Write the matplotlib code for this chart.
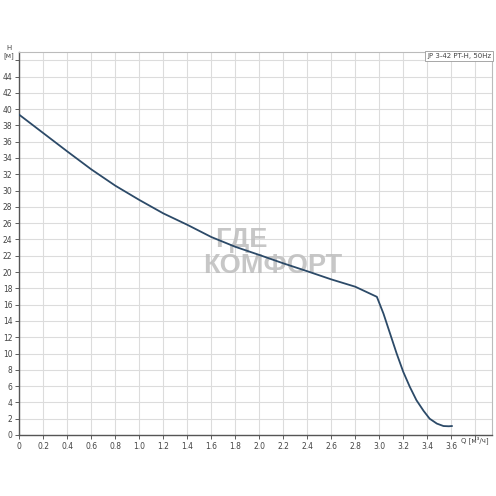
import matplotlib
matplotlib.use("Agg")
import matplotlib.pyplot as plt

# pump curve
q = [0.0, 0.2, 0.4, 0.6, 0.8, 1.0, 1.2, 1.4, 1.6, 1.8, 2.0, 2.2, 2.4, 2.6, 2.8, 2.98,
     3.035, 3.09, 3.145, 3.20, 3.255, 3.31, 3.37, 3.42, 3.48, 3.535, 3.58, 3.605]
h = [39.3, 37.05, 34.8, 32.6, 30.6, 28.85, 27.2, 25.8, 24.3, 23.1, 22.1, 21.07, 20.1, 19.1, 18.2, 16.96,
     14.9, 12.45, 10.0, 7.75, 5.9, 4.27, 2.95, 2.0, 1.4, 1.1, 1.07, 1.1]

x_ticks = [0, 0.2, 0.4, 0.6, 0.8, 1.0, 1.2, 1.4, 1.6, 1.8, 2.0, 2.2, 2.4, 2.6, 2.8, 3.0, 3.2, 3.4, 3.6, 3.8]
x_labels = ["0", "0.2", "0.4", "0.6", "0.8", "1.0", "1.2", "1.4", "1.6", "1.8", "2.0",
            "2.2", "2.4", "2.6", "2.8", "3.0", "3.2", "3.4", "3.6", ""]
y_ticks = list(range(0, 48, 2))
y_labels = [str(v) for v in range(0, 46, 2)] + [""]

fig = plt.figure(figsize=(4.96, 4.96), dpi=100)
ax = fig.add_axes([0.039, 0.123, 0.953, 0.772])

ax.plot(q, h, color="#2c4a68", lw=1.3, solid_joinstyle="round", zorder=3)

ax.set_xlim(0, 3.94)
ax.set_ylim(0, 47)
ax.set_xticks(x_ticks)
ax.set_xticklabels(x_labels)
ax.set_yticks(y_ticks)
ax.set_yticklabels(y_labels)
ax.tick_params(labelsize=5.5, colors="#444444", length=3, width=0.6, pad=2)
ax.grid(True, color="#dcdcdc", lw=0.8)
ax.set_axisbelow(True)

for s in ["top", "right"]:
    ax.spines[s].set_color("#bbbbbb")
    ax.spines[s].set_linewidth(0.8)
for s in ["left", "bottom"]:
    ax.spines[s].set_color("#555555")
    ax.spines[s].set_linewidth(1.0)

# watermark
ax.text(1.63, 23.07, "ГДЕ", fontsize=19.5, fontweight="bold", family="Liberation Sans",
        color="#bdbdbd", alpha=0.85, ha="left", va="baseline", zorder=2)
ax.text(1.53, 19.9, "КОМФОРТ", fontsize=19.5, fontweight="bold", family="Liberation Sans",
        color="#bdbdbd", alpha=0.85, ha="left", va="baseline", zorder=2)

ax.text(0.998, 0.997, "JP 3-42 PT-H, 50Hz", transform=ax.transAxes, fontsize=5,
        color="#444444", ha="right", va="top",
        bbox=dict(boxstyle="square,pad=0.3", fc="white", ec="#999999", lw=0.6))

fig.text(0.018, 0.895, "H\n[м]", fontsize=5, color="#444444", ha="center", va="center",
         linespacing=1.3)
fig.text(0.958, 0.112, "Q [м³/ч]", fontsize=5, color="#444444", ha="center", va="center")

fig.savefig("out.png", dpi=100)
